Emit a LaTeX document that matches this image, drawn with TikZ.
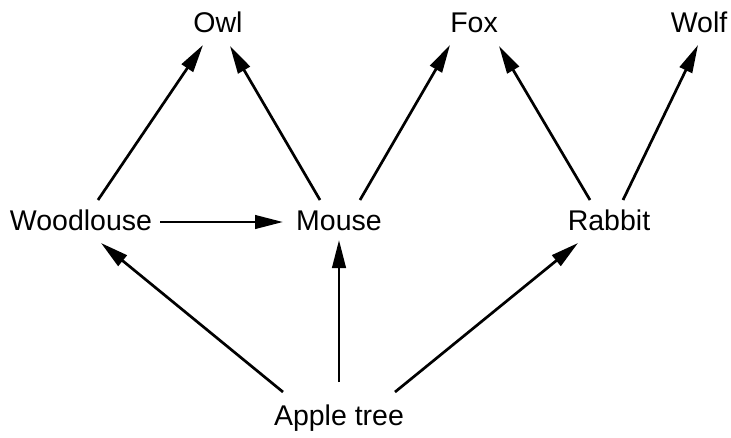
\documentclass[tikz,border=0pt]{standalone}
\usepackage{fontspec}
\setmainfont{Liberation Sans}
\usetikzlibrary{arrows.meta,calc}
\begin{document}
\begin{tikzpicture}[x = 1pt, y = -1pt,
   animal/.style = {anchor=base, inner sep=0pt, font=\fontsize{28.5}{34}\selectfont},
   eats/.style = {line width=2.7pt, -{Triangle[length=28pt,width=13.5pt]}}]
   \useasboundingbox (0,0) rectangle (731,437);
   \node[animal] (owl) at (218,32) {Owl};
   \node[animal] (fox) at (474,32) {Fox};
   \node[animal] (wolf) at (699,32) {Wolf};
   \node[animal] (woodlouse) at (81,230) {Woodlouse};
   \node[animal] (mouse) at (339,230) {Mouse};
   \node[animal] (rabbit) at (609,230) {Rabbit};
   \node[animal] (tree) at (339,425) {Apple tree};
   \draw[eats] ($(woodlouse.base)+(17,-30)$) -- ($(owl.base)+(-15,13)$);
   \draw[eats] ($(mouse.base)+(-19,-30)$) -- ($(owl.base)+(12,14)$);
   \draw[eats] ($(mouse.base)+(21,-30)$) -- ($(fox.base)+(-24,13)$);
   \draw[eats] ($(rabbit.base)+(-19,-30)$) -- ($(fox.base)+(25,14)$);
   \draw[eats] ($(rabbit.base)+(14,-30)$) -- ($(wolf.base)+(-1,13)$);
   \draw[eats] ($(woodlouse.base)+(79,-8)$) -- ($(mouse.base)+(-56,-8)$);
   \draw[eats] ($(tree.base)+(-56,-33)$) -- ($(woodlouse.base)+(20,13)$);
   \draw[eats] ($(tree.base)+(0,-43)$) -- ($(mouse.base)+(0,10)$);
   \draw[eats] ($(tree.base)+(56,-33)$) -- ($(rabbit.base)+(-31,13)$);
\end{tikzpicture}
\end{document}
